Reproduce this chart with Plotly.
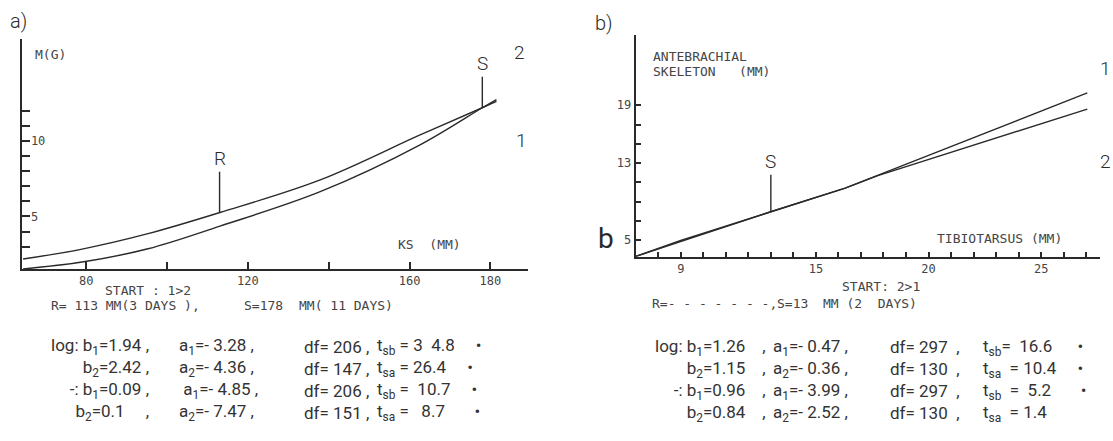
import numpy as np
import plotly.graph_objects as go

W, H = 1113, 441

# ---- panel a: body mass against KS length ----
ks_mm = [64.4, 79.0, 95.3, 113.1, 137.9, 162.6, 178.0, 181.5]
mass_1 = [2.18, 2.84, 3.86, 5.26, 7.42, 10.40, 12.20, 12.62]
mass_2 = [1.52, 1.98, 2.86, 4.36, 6.64, 9.74, 12.20, 12.74]
R_a, S_a = 113, 178

# ---- panel b: antebrachial skeleton against tibiotarsus ----
tibio_mm = [7.0, 9.0, 13.0, 16.3, 17.75, 22.0, 27.05]
ante_1 = [3.30, 4.85, 7.94, 10.40, 11.74, 15.63, 20.28]
ante_2 = [3.30, 4.95, 7.94, 10.40, 11.70, 14.85, 18.60]
S_b = 13

# labelled ticks and unlabelled (minor) ticks
xa_major = [80, 120, 160, 180]
xa_minor = [100, 140]
ya_major = [5, 10]
ya_minor = [3, 4, 6, 7, 8, 9, 11, 12]
xb_major = [9, 15, 20, 25]
xb_minor = [8, 10, 11, 12, 13, 14, 16, 17, 18, 19, 21, 22, 23, 24, 26, 27]
yb_major = [5, 13, 19]
yb_minor = [7, 9, 11, 15, 17]

# regression tables, one list per column
a_col1 = ["log: b<sub>1</sub>=1.94 ,", "b<sub>2</sub>=2.42 ,", "-: b<sub>1</sub>=0.09 ,", "b<sub>2</sub>=0.1     ,"]
a_col2 = ["a<sub>1</sub>=- 3.28 ,", "a<sub>2</sub>=- 4.36 ,", " a<sub>1</sub>=- 4.85 ,", "a<sub>2</sub>=- 7.47 ,"]
a_col3 = ["df= 206 ,", "df= 147 ,", "df= 206 ,", "df= 151 ,"]
a_col4 = ["t<sub>sb</sub> = 3  4.8     •", "t<sub>sa</sub> = 26.4     •",
          "t<sub>sb</sub> =  10.7     •", "t<sub>sa</sub> =   8.7       •"]

b_col1 = ["log: b<sub>1</sub>=1.26    ,", "b<sub>2</sub>=1.15    ,", "-: b<sub>1</sub>=0.96    ,", "b<sub>2</sub>=0.84    ,"]
b_col2 = ["a<sub>1</sub>=- 0.47 ,", "a<sub>2</sub>=- 0.36 ,", "a<sub>1</sub>=- 3.99 ,", "a<sub>2</sub>=- 2.52 ,"]
b_col3 = ["df= 297  ,", "df= 130  ,", "df= 297  ,", "df= 130  ,"]
b_col4 = ["t<sub>sb</sub>=  16.6      •", "t<sub>sa</sub>  = 10.4     •",
          "t<sub>sb</sub>  =  5.2       •", "t<sub>sa</sub>  = 1.4"]

INK = "#2a2a2a"
TXT = "#333333"
GREY = "#454545"
LIGHT = "Roboto"
MONO = "DejaVu Sans Mono"

fig = go.Figure()
line_style = dict(color=INK, width=1.4)
fig.add_trace(go.Scatter(x=ks_mm, y=mass_1, mode="lines", line=dict(shape="spline", **line_style),
                         xaxis="x", yaxis="y", showlegend=False))
fig.add_trace(go.Scatter(x=ks_mm, y=mass_2, mode="lines", line=dict(shape="spline", **line_style),
                         xaxis="x", yaxis="y", showlegend=False))
fig.add_trace(go.Scatter(x=tibio_mm, y=ante_1, mode="lines", line=line_style,
                         xaxis="x2", yaxis="y2", showlegend=False))
fig.add_trace(go.Scatter(x=tibio_mm, y=ante_2, mode="lines", line=line_style,
                         xaxis="x2", yaxis="y2", showlegend=False))


def dom_x(a, b):
    return [a / W, b / W]


def dom_y(top, bottom):
    return [1 - bottom / H, 1 - top / H]


def axis(major, minor, ticklen, **kw):
    return dict(showline=True, linecolor=INK, linewidth=2, showgrid=False, zeroline=False,
                ticks="inside", tickcolor=INK, tickwidth=1.5, ticklen=ticklen,
                tickmode="array", tickvals=major, ticktext=[str(v) for v in major],
                tickfont=dict(family=MONO, size=12, color=GREY),
                minor=dict(tickmode="array", tickvals=minor, ticks="inside", ticklen=ticklen,
                           tickcolor=INK, tickwidth=1.5, showgrid=False),
                **kw)


fig.update_layout(
    width=W, height=H, margin=dict(l=0, r=0, t=0, b=0),
    paper_bgcolor="white", plot_bgcolor="white",
    xaxis=axis(xa_major, xa_minor, 7, domain=dom_x(22.3, 528), range=[64.2, 189.3], anchor="y"),
    yaxis=axis(ya_major, ya_minor, 8, domain=dom_y(38.9, 269), range=[1.52, 16.76], anchor="x",
               ticklabelposition="inside"),
    xaxis2=axis(xb_major, xb_minor, 5, domain=dom_x(635.7, 1099.7), range=[7.0, 27.6], anchor="y2"),
    yaxis2=axis(yb_major, yb_minor, 5, domain=dom_y(35, 256.7), range=[3.27, 26.3], anchor="x2"),
)


def note(x, y, text, size, family=LIGHT, color=INK, xanchor="left", weight=300, align="left"):
    fig.add_annotation(x=x / W, y=1 - y / H, xref="paper", yref="paper", text=text,
                       showarrow=False, xanchor=xanchor, yanchor="middle", align=align,
                       font=dict(family=family, size=size, color=color, weight=weight))


def stencil(x, y, text):
    note(x, y, text, 13, MONO, GREY, weight=400)


def marker(label, xv, xs, ys, xref, yref, rise):
    yv = float(np.interp(xv, xs, ys))
    fig.add_annotation(x=xv, y=yv, xref=xref, yref=yref, text=label, showarrow=True,
                       arrowhead=0, arrowwidth=1.4, arrowcolor=INK, ax=0, ay=-rise,
                       standoff=0, font=dict(family=LIGHT, size=19, color=INK, weight=300))


marker("R", R_a, ks_mm, mass_1, "x", "y", 54)
marker("S", S_a, ks_mm, mass_1, "x", "y", 44)
marker("S", S_b, tibio_mm, ante_1, "x2", "y2", 50)

# panel letters and curve numbers
note(8, 21, "a)", 20)
note(593, 23, "b)", 20)
note(512, 53, "2", 19)
note(514, 140, "1", 19)
note(1098, 68, "1", 19)
note(1098, 162, "2", 19)
note(596, 238, "b", 28, weight=400)

# axis captions
stencil(33, 55, "M(G)")
stencil(396, 244, "KS  (MM)")
stencil(651, 56, "ANTEBRACHIAL")
stencil(651, 72, "SKELETON   (MM)")
stencil(935, 238, "TIBIOTARSUS (MM)")

# start / R / S lines under the axes
stencil(103, 290, "START : 1>2")
stencil(49, 305, "R= 113 MM(3 DAYS ),")
stencil(242, 305, "S=178")
stencil(297, 305, "MM( 11 DAYS)")
stencil(840, 286, "START: 2>1")
stencil(650, 303, "R=- - - - - - -,")
stencil(775, 303, "S=13")
stencil(821, 303, "MM (2  DAYS)")


# regression tables: each column is one block of four lines
def block(x, y_mid, rows, xanchor="left"):
    note(x, y_mid, "<br>".join(rows), 17, LIGHT, TXT, xanchor=xanchor, weight=400,
         align="right" if xanchor == "right" else "left")


block(151, 379.5, a_col1, "right")
block(177, 379.5, a_col2)
block(302, 379.5, a_col3)
block(375, 379.5, a_col4)

block(768, 380, b_col1, "right")
block(771, 380, b_col2)
block(888, 380, b_col3)
block(981, 380, b_col4)

fig.write_html("out.html")
